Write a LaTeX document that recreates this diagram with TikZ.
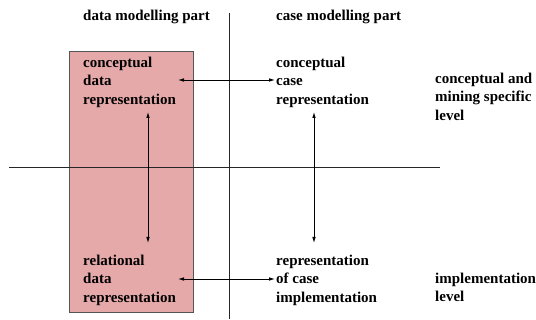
\documentclass[tikz,border=0pt]{standalone}
\usepackage{fontspec}
\setmainfont{Liberation Serif}
\usetikzlibrary{arrows.meta}
\definecolor{partfill}{HTML}{E6A9A9}
\definecolor{partedge}{HTML}{555555}
\begin{document}
\begin{tikzpicture}[x=1pt,y=-1pt,
  lbl/.style={anchor=base west,inner sep=0pt,align=left,
    font=\fontsize{15}{18.5}\selectfont\bfseries},
  rule/.style={line width=1pt,draw=black!85},
  link/.style={line width=0.8pt,<->,>={Latex[length=6pt,width=3.6pt]}}]
  \useasboundingbox (0,0) rectangle (536,320);
  % shaded data modelling column
  \draw[fill=partfill,draw=partedge,line width=1pt] (69.5,52) rectangle (193,313);
  % axes separating parts and levels
  \coordinate (vtop) at (229,13);
  \coordinate (vbot) at (229,319);
  \coordinate (hl) at (9,168);
  \coordinate (hr) at (440,168);
  \draw[rule] (vtop) -- (vbot);
  \draw[rule] (hl) -- (hr);
  % headings (anchored at the baseline of the last line)
  \node[lbl] (hdata) at (83,21) {data modelling part};
  \node[lbl] (hcase) at (276,21) {case modelling part};
  % representations
  \node[lbl] (cdata) at (83,104.5) {conceptual\\data\\representation};
  \node[lbl] (ccase) at (276,104.5) {conceptual\\case\\representation};
  \node[lbl] (rdata) at (83,302.5) {relational\\data\\representation};
  \node[lbl] (icase) at (276,302.5) {representation\\of case\\implementation};
  % level labels
  \node[lbl] (lconc) at (435,120.5) {conceptual and\\mining specific\\level};
  \node[lbl] (limpl) at (435,302) {implementation\\level};
  % connections
  \coordinate (a1) at (178,80);
  \coordinate (a2) at (275,80);
  \coordinate (b1) at (178,279);
  \coordinate (b2) at (275,279);
  \coordinate (c1) at (148,112);
  \coordinate (c2) at (148,243);
  \coordinate (d1) at (314,112);
  \coordinate (d2) at (314,243);
  \draw[link] (a1) -- (a2);
  \draw[link] (b1) -- (b2);
  \draw[link] (c1) -- (c2);
  \draw[link] (d1) -- (d2);
\end{tikzpicture}
\end{document}
